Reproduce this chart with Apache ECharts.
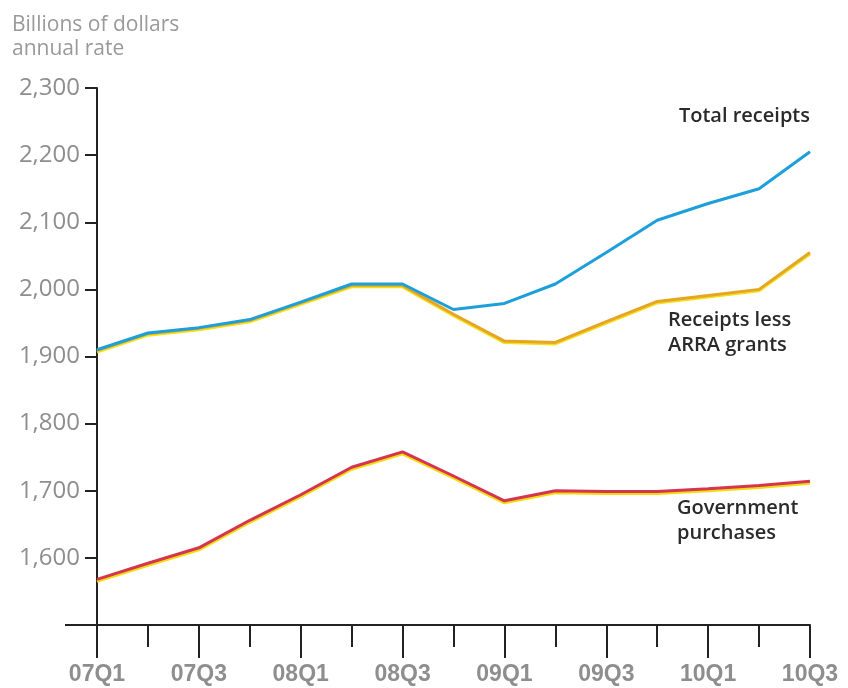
<!DOCTYPE html>
<html><head><meta charset="utf-8">
<script src="https://cdn.jsdelivr.net/npm/echarts@6/dist/echarts.min.js"></script>
<style>html,body{margin:0;padding:0;background:#fff}#c{width:848px;height:688px}</style>
</head><body><div id="c"></div>
<script>
var quarters = ['07Q1','07Q2','07Q3','07Q4','08Q1','08Q2','08Q3','08Q4','09Q1','09Q2','09Q3','09Q4','10Q1','10Q2','10Q3'];
var totalReceipts = [1910,1935,1943,1955,1981,2008,2008,1970,1979,2008,2055,2103,2128,2150,2205];
var receiptsLessARRA = [1909,1934,1942,1954,1980,2006,2006,1963,1923,1921,1952,1982,1991,2000,2055];
var govPurchases = [1568,1592,1615,1656,1694,1735,1758,1722,1685,1700,1699,1699,1703,1708,1714];
var yTicks = [1500,1600,1700,1800,1900,2000,2100,2200,2300];

var font = 'Liberation Sans, Arial, sans-serif';
var wide = '"Open Sans", "Liberation Sans", sans-serif';
var chart = echarts.init(document.getElementById('c'), null, {renderer:'canvas'});
function fmt(v){ if (v === yTicks[0]) return ''; var s = String(v); return s.slice(0, s.length-3) + ',' + s.slice(-3); }
chart.setOption({
  animation: false,
  backgroundColor: '#fff',
  grid: {left: 97, right: 38, top: 88, bottom: 63},
  xAxis: [{
    type: 'category', data: quarters, boundaryGap: false,
    axisLine: {show: true, lineStyle: {color: '#222', width: 2}},
    axisTick: {show: true, interval: 0, length: 22, lineStyle: {color: '#222', width: 2}},
    axisLabel: {show: false},
    splitLine: {show: false}
  },{
    type: 'category', data: quarters, boundaryGap: false, position: 'bottom',
    axisLine: {show: false},
    axisTick: {show: true, interval: 1, length: 33, lineStyle: {color: '#222', width: 2}},
    axisLabel: {show: true, interval: 1, margin: 38, color: '#8e8e8e', fontSize: 23, fontWeight: 'bold', fontFamily: font},
    splitLine: {show: false}
  }],
  yAxis: {
    type: 'value', min: yTicks[0], max: yTicks[yTicks.length-1], interval: 100,
    axisLine: {show: true, lineStyle: {color: '#222', width: 2}},
    axisTick: {show: true, length: 12, lineStyle: {color: '#222', width: 2}},
    axisLabel: {margin: 17, color: '#8e8e8e', fontSize: 24, fontFamily: wide, formatter: fmt},
    splitLine: {show: false}
  },
  series: [{
    name: 'Government purchases', type: 'line', data: govPurchases, symbol: 'none',
    lineStyle: {color: '#d5354f', width: 3, shadowColor: '#f2dc10', shadowOffsetY: 2, shadowBlur: 0}
  },{
    name: 'Receipts less ARRA grants', type: 'line', data: receiptsLessARRA, symbol: 'none',
    lineStyle: {color: '#e6a524', width: 3, shadowColor: '#f3e21a', shadowOffsetY: 1.5, shadowBlur: 0}
  },{
    name: 'Total receipts', type: 'line', data: totalReceipts, symbol: 'none',
    lineStyle: {color: '#1d9fd9', width: 3}
  }],
  graphic: [
    {type: 'line', shape: {x1: 65, y1: 625, x2: 97, y2: 625}, style: {stroke: '#222', lineWidth: 2}},
    {type: 'text', left: 12, top: 13, style: {text: 'Billions of dollars\nannual rate', fill: '#999', font: '21px ' + wide, lineHeight: 24}},
    {type: 'text', right: 38, top: 106, style: {text: 'Total receipts', fill: '#2a2a2a', font: '600 20px ' + wide, textAlign: 'right'}},
    {type: 'text', left: 668, top: 308, style: {text: 'Receipts less\nARRA grants', fill: '#2a2a2a', font: '600 20px ' + wide, lineHeight: 25}},
    {type: 'text', left: 677, top: 496, style: {text: 'Government\npurchases', fill: '#2a2a2a', font: '600 20px ' + wide, lineHeight: 25}}
  ]
});
</script></body></html>
